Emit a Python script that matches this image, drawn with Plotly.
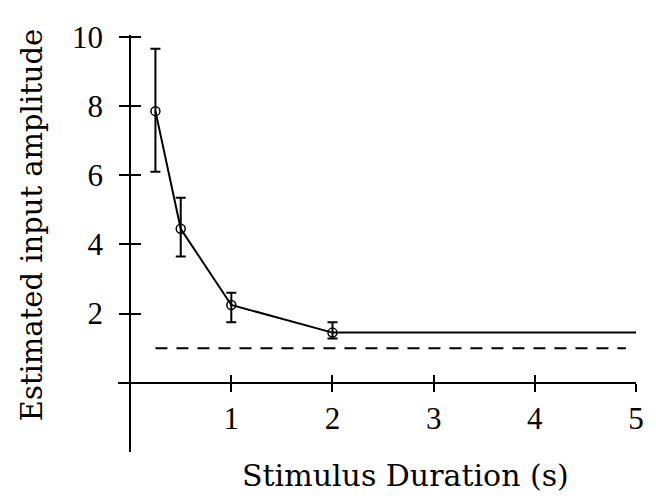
import plotly.graph_objects as go

# Data
durations = [0.25, 0.5, 1.0, 2.0]
amplitude = [7.85, 4.45, 2.25, 1.45]
err_plus = [1.8, 0.9, 0.35, 0.3]
err_minus = [1.75, 0.8, 0.5, 0.17]
fit_x = [0.25, 0.5, 1.0, 2.0, 5.0]
fit_y = [7.85, 4.45, 2.25, 1.45, 1.45]
ref_x = [0.25, 4.9]
ref_y = [1.0, 1.0]
x_ticks = [1, 2, 3, 4, 5]
y_ticks = [2, 4, 6, 8, 10]

FONT = "Liberation Serif"
TITLE_FONT = "DejaVu Serif"
X_RANGE = [-0.12, 5.0]
Y_RANGE = [-2.0, 10.05]
x_zero_pos = (0 - Y_RANGE[0]) / (Y_RANGE[1] - Y_RANGE[0])
y_zero_pos = (0 - X_RANGE[0]) / (X_RANGE[1] - X_RANGE[0])

fig = go.Figure()

fig.add_trace(go.Scatter(x=ref_x, y=ref_y, mode="lines",
                         line=dict(color="black", width=2, dash="12px,9px"),
                         showlegend=False, hoverinfo="skip"))
fig.add_trace(go.Scatter(x=fit_x, y=fit_y, mode="lines",
                         line=dict(color="black", width=2),
                         showlegend=False))
fig.add_trace(go.Scatter(x=durations, y=amplitude, mode="markers",
                         marker=dict(symbol="circle-open", size=9, color="black",
                                     line=dict(width=1.5, color="black")),
                         error_y=dict(type="data", array=err_plus, arrayminus=err_minus,
                                      color="black", thickness=2, width=5),
                         showlegend=False))
# invisible trace for overlay axes (inside tick halves)
fig.add_trace(go.Scatter(x=[None], y=[None], xaxis="x2", yaxis="y2",
                         showlegend=False, hoverinfo="skip"))

fig.update_layout(
    width=648, height=491,
    margin=dict(l=110, r=16, t=27, b=47),
    paper_bgcolor="white", plot_bgcolor="white",
    font=dict(family=FONT, size=31, color="black"),
    xaxis=dict(range=X_RANGE, anchor="free", position=x_zero_pos,
               showline=True, linecolor="black", linewidth=2,
               tickvals=x_ticks, ticktext=[str(t) for t in x_ticks],
               ticks="outside", ticklen=8, tickwidth=2, tickcolor="black",
               showgrid=False, zeroline=False,
               tickfont=dict(family=FONT, size=31)),
    yaxis=dict(range=Y_RANGE, anchor="free", position=y_zero_pos,
               showline=True, linecolor="black", linewidth=2,
               tickvals=y_ticks, ticktext=[str(t) for t in y_ticks],
               ticks="outside", ticklen=10, tickwidth=2, tickcolor="black",
               ticklabelstandoff=10,
               showgrid=False, zeroline=False,
               tickfont=dict(family=FONT, size=31)),
    xaxis2=dict(range=X_RANGE, overlaying="x", anchor="free", position=x_zero_pos,
                showline=False, tickvals=x_ticks, showticklabels=False,
                ticks="inside", ticklen=8, tickwidth=2, tickcolor="black",
                showgrid=False, zeroline=False),
    yaxis2=dict(range=Y_RANGE, overlaying="y", anchor="free", position=y_zero_pos,
                showline=False, tickvals=y_ticks, showticklabels=False,
                ticks="inside", ticklen=10, tickwidth=2, tickcolor="black",
                showgrid=False, zeroline=False),
    annotations=[
        dict(text="Stimulus Duration (s)", xref="paper", yref="paper",
             x=0.555, y=-0.056, showarrow=False, xanchor="center", yanchor="middle",
             font=dict(family=TITLE_FONT, size=30)),
        dict(text="Estimated input amplitude", xref="paper", yref="paper",
             x=-0.166, y=0.544, showarrow=False, textangle=-90,
             xanchor="center", yanchor="middle",
             font=dict(family=TITLE_FONT, size=29)),
    ],
)

fig.write_html("out.html")
